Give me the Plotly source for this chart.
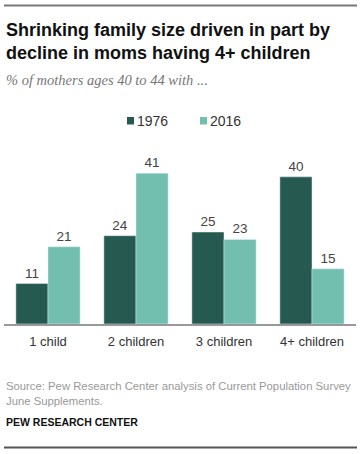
import plotly.graph_objects as go

categories = ["1 child", "2 children", "3 children", "4+ children"]
values_1976 = [11, 24, 25, 40]
values_2016 = [21, 41, 23, 15]
series_names = ["1976", "2016"]

DARK = "#265a50"
LIGHT = "#72bfb0"

W, H = 363, 454
PLOT_L, PLOT_R, PLOT_T, PLOT_B = 4, 356, 150, 324

def py(y):
    return 1 - y / H

def px(x):
    return x / W

fig = go.Figure()
fig.add_trace(go.Bar(x=categories, y=values_1976, name=series_names[0], marker_color=DARK,
                     text=[str(v) for v in values_1976], textposition="outside",
                     textfont=dict(size=13.5, color="#444", family="Liberation Sans"), cliponaxis=False,
                     showlegend=False, hoverinfo="skip"))
fig.add_trace(go.Bar(x=categories, y=values_2016, name=series_names[1], marker_color=LIGHT,
                     text=[str(v) for v in values_2016], textposition="outside",
                     textfont=dict(size=13.5, color="#444", family="Liberation Sans"), cliponaxis=False,
                     showlegend=False, hoverinfo="skip"))

fig.update_layout(
    width=W, height=H, margin=dict(l=0, r=0, t=0, b=0, pad=0),
    barmode="group", bargap=0.27, bargroupgap=0,
    plot_bgcolor="white", paper_bgcolor="white",
    xaxis=dict(range=[-0.5, 3.5], domain=[px(PLOT_L), px(PLOT_R)], showline=True, linecolor="#999",
               linewidth=1.5, ticks="", tickfont=dict(size=13, color="#333", family="Liberation Sans"),
               ticklabelstandoff=5, fixedrange=True),
    yaxis=dict(range=[0, 47.3], domain=[py(PLOT_B), py(PLOT_T)], visible=False, showgrid=False,
               fixedrange=True),
    font=dict(family="Liberation Sans"),
)

ann = []
ann.append(dict(text="<b>Shrinking family size driven in part by</b>", x=px(4), y=py(30), xref="paper", yref="paper",
                xanchor="left", yanchor="middle", showarrow=False,
                font=dict(size=18, color="#111", family="Liberation Sans")))
ann.append(dict(text="<b>decline in moms having 4+ children</b>", x=px(4), y=py(53), xref="paper", yref="paper",
                xanchor="left", yanchor="middle", showarrow=False,
                font=dict(size=18, color="#111", family="Liberation Sans")))
ann.append(dict(text="<i>% of mothers ages 40 to 44 with ...</i>", x=px(4), y=py(80), xref="paper", yref="paper",
                xanchor="left", yanchor="middle", showarrow=False,
                font=dict(size=14.5, color="#777", family="Liberation Serif")))
# legend
for xs, name in [(126, series_names[0]), (199, series_names[1])]:
    ann.append(dict(text=name, x=px(xs + 9), y=py(121), xref="paper", yref="paper",
                    xanchor="left", yanchor="middle", showarrow=False,
                    font=dict(size=14, color="#333", family="Liberation Sans")))
ann.append(dict(text="Source: Pew Research Center analysis of Current Population Survey<br>June Supplements.",
                x=px(4), y=py(378), xref="paper", yref="paper", xanchor="left", yanchor="top", showarrow=False,
                align="left", font=dict(size=11.3, color="#999", family="Liberation Sans")))
ann.append(dict(text="<b>PEW RESEARCH CENTER</b>", x=px(4), y=py(422), xref="paper", yref="paper",
                xanchor="left", yanchor="middle", showarrow=False,
                font=dict(size=10.5, color="#111", family="Liberation Sans")))
fig.update_layout(annotations=ann)

shapes = [
    dict(type="rect", xref="paper", yref="paper", x0=px(4), x1=px(357), y0=py(6.5), y1=py(4.5),
         fillcolor="#777777", line=dict(width=0)),
    dict(type="rect", xref="paper", yref="paper", x0=px(4), x1=px(357), y0=py(448.5), y1=py(446.5),
         fillcolor="#555555", line=dict(width=0)),
    dict(type="rect", xref="paper", yref="paper", x0=px(127), x1=px(134), y0=py(124.5), y1=py(117),
         fillcolor=DARK, line=dict(width=0)),
    dict(type="rect", xref="paper", yref="paper", x0=px(200), x1=px(207), y0=py(124.5), y1=py(117),
         fillcolor=LIGHT, line=dict(width=0)),
]
fig.update_layout(shapes=shapes)

fig.write_html("out.html", config={"displayModeBar": False},
               post_script="document.body.style.margin='0';document.body.style.padding='0';")
